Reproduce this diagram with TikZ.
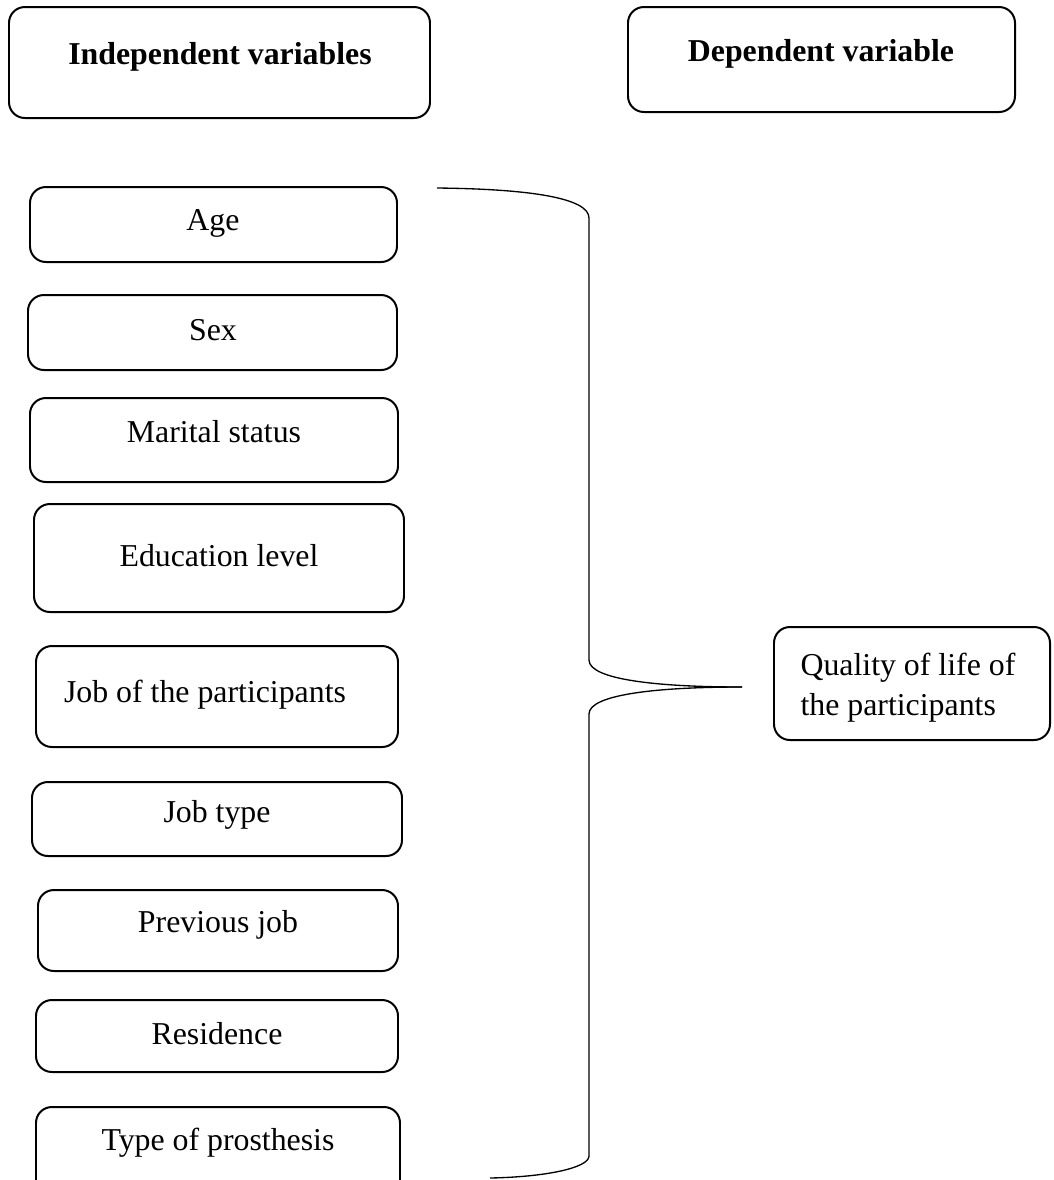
\documentclass[tikz,border=0pt]{standalone}
\usepackage{fontspec}
\setmainfont{Liberation Serif}
\begin{document}
\begin{tikzpicture}[x=0.377pt,y=-0.377pt,
  rbox/.style={draw,line width=0.75pt,rounded corners=6pt},
  txt/.style={inner sep=0pt,anchor=base,font=\fontsize{12}{14}\selectfont},
  head/.style={inner sep=0pt,anchor=base,font=\fontsize{12}{14}\selectfont\bfseries},
  brace/.style={draw,line width=0.5pt}]
\useasboundingbox (0,0) rectangle (1053,1180);
% headings
\draw[rbox] (9,7) rectangle (430,118);
\node[head] (indep) at (220,64) {Independent variables};
\draw[rbox] (628,7) rectangle (1015,112);
\node[head] (dep) at (821,61) {Dependent variable};
% left boxes
\draw[rbox] (30,187) rectangle (397,262);
\node[txt] (age) at (213,230) {Age};
\draw[rbox] (28,295) rectangle (397,370);
\node[txt] (sex) at (213,340) {Sex};
\draw[rbox] (30,398) rectangle (398,482);
\node[txt] (marital) at (214,442) {Marital status};
\draw[rbox] (34,504) rectangle (404,612);
\node[txt] (edu) at (219,566) {Education level};
\draw[rbox] (36,646) rectangle (398,747);
\node[txt] (jobp) at (205,702) {Job of the participants};
\draw[rbox] (32,782) rectangle (402,856);
\node[txt] (jobt) at (217,822) {Job type};
\draw[rbox] (38,890) rectangle (398,971);
\node[txt] (prev) at (218,932) {Previous job};
\draw[rbox] (36,1000) rectangle (398,1072);
\node[txt] (res) at (217,1044) {Residence};
\draw[rbox] (36,1107) rectangle (400,1200);
\node[txt] (pros) at (218,1150) {Type of prosthesis};
% outcome
\draw[rbox] (774,627) rectangle (1050,740);
\node[inner sep=0pt,align=left,anchor=west,font=\fontsize{12}{15}\selectfont] (qol) at (800,688) {Quality of life of\\the participants};
% brace
\coordinate (btop) at (437,188);
\coordinate (btip) at (742,687);
\coordinate (bbot) at (490,1178);
\draw[brace] (btop) .. controls (530,189) and (589,198) .. (589,218) -- (589,660)
  .. controls (589,680) and (660,687) .. (btip);
\draw[brace] (btip) .. controls (660,687) and (589,694) .. (589,714) -- (589,1156)
  .. controls (589,1168) and (545,1177) .. (bbot);
\end{tikzpicture}
\end{document}
